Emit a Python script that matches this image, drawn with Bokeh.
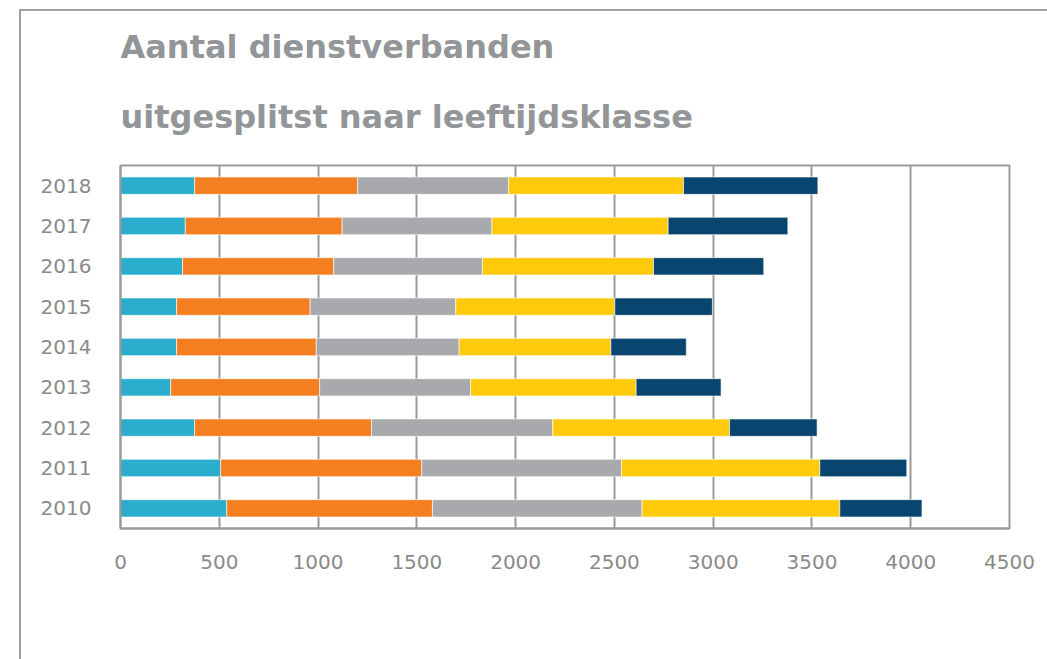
from bokeh.plotting import figure
from bokeh.models import (FactorRange, Range1d, Legend, LegendItem, Title,
                          ColumnDataSource, FixedTicker)
from bokeh.embed import file_html
from bokeh.resources import INLINE

years = ['2010', '2011', '2012', '2013', '2014', '2015', '2016', '2017', '2018']
lt25 = [538, 507, 375, 254, 284, 284, 314, 328, 375]
a25_34 = [1041, 1018, 896, 754, 707, 676, 765, 794, 825]
a35_44 = [1061, 1011, 917, 764, 723, 737, 753, 758, 764]
a45_54 = [1001, 1004, 895, 838, 768, 805, 866, 892, 886]
ge55 = [416, 440, 443, 430, 382, 494, 558, 606, 680]
labels = ['< 25 jaar', '< 25 t/m 34 jaar', '< 35 t/m 44 jaar',
          '< 45 t/m 54 jaar', '>= 55 jaar']
colors = ['#2BAECE', '#F47F21', '#A8A9AC', '#FFCA0B', '#08456F']
x_ticks = [0, 500, 1000, 1500, 2000, 2500, 3000, 3500, 4000, 4500]
title_1 = 'Aantal dienstverbanden'
title_2 = 'uitgesplitst naar leeftijdsklasse'

keys = ['s0', 's1', 's2', 's3', 's4']
source = ColumnDataSource(data=dict(year=years, s0=lt25, s1=a25_34, s2=a35_44,
                                    s3=a45_54, s4=ge55))

GREY = '#9a9a9a'
TXT = '#8a8a8a'
FONT = 'DejaVu Sans'

p = figure(frame_width=889, frame_height=363, output_backend="svg", toolbar_location=None,
           x_range=Range1d(0, 4500),
           y_range=FactorRange(factors=years, range_padding=0),
           min_border_left=99, min_border_right=38,
           min_border_top=154, min_border_bottom=0)
p.title = None
p.styles = {"border-left": "2px solid #a0a0a0", "border-top": "2px solid #a0a0a0",
            "margin-left": "19px", "margin-top": "9px"}

rs = p.hbar_stack(keys, y='year', height=0.43, color=colors, source=source,
                  line_color='white', line_width=0.6)

t2 = Title(text=title_2, align='left', text_font=FONT, text_font_style='bold',
           text_font_size='32px', text_color='#939598', standoff=60)
t1 = Title(text=title_1, align='left', text_font=FONT, text_font_style='bold',
           text_font_size='32px', text_color='#939598', standoff=0)
p.add_layout(t2, 'above')
p.add_layout(t1, 'above')

p.xaxis.ticker = FixedTicker(ticks=x_ticks)
p.xgrid.ticker = FixedTicker(ticks=x_ticks)
p.xgrid.grid_line_color = GREY
p.xgrid.grid_line_width = 2
p.ygrid.grid_line_color = None
p.outline_line_color = GREY
p.outline_line_width = 2

for ax in (p.xaxis[0], p.yaxis[0]):
    ax.axis_line_color = GREY
    ax.axis_line_width = 2
    ax.major_tick_line_color = None
    ax.minor_tick_line_color = None
    ax.major_tick_out = 0
    ax.major_tick_in = 0
    ax.minor_tick_out = 0
    ax.major_label_text_font = FONT
    ax.major_label_text_font_size = '20px'
    ax.major_label_text_color = TXT
p.xaxis.major_label_standoff = 26
p.yaxis.major_label_standoff = 29

legend = Legend(items=[LegendItem(label=l, renderers=[r]) for l, r in zip(labels, rs)],
                orientation='horizontal', location='top_center',
                glyph_width=22, glyph_height=22, label_standoff=2, spacing=31,
                padding=0, margin=29, border_line_color=None,
                background_fill_alpha=0, label_text_font=FONT,
                label_text_font_size='20px', label_text_color=TXT,
                label_height=20)
p.add_layout(legend, 'below')

open("out.html", "w").write(file_html(p, INLINE))
